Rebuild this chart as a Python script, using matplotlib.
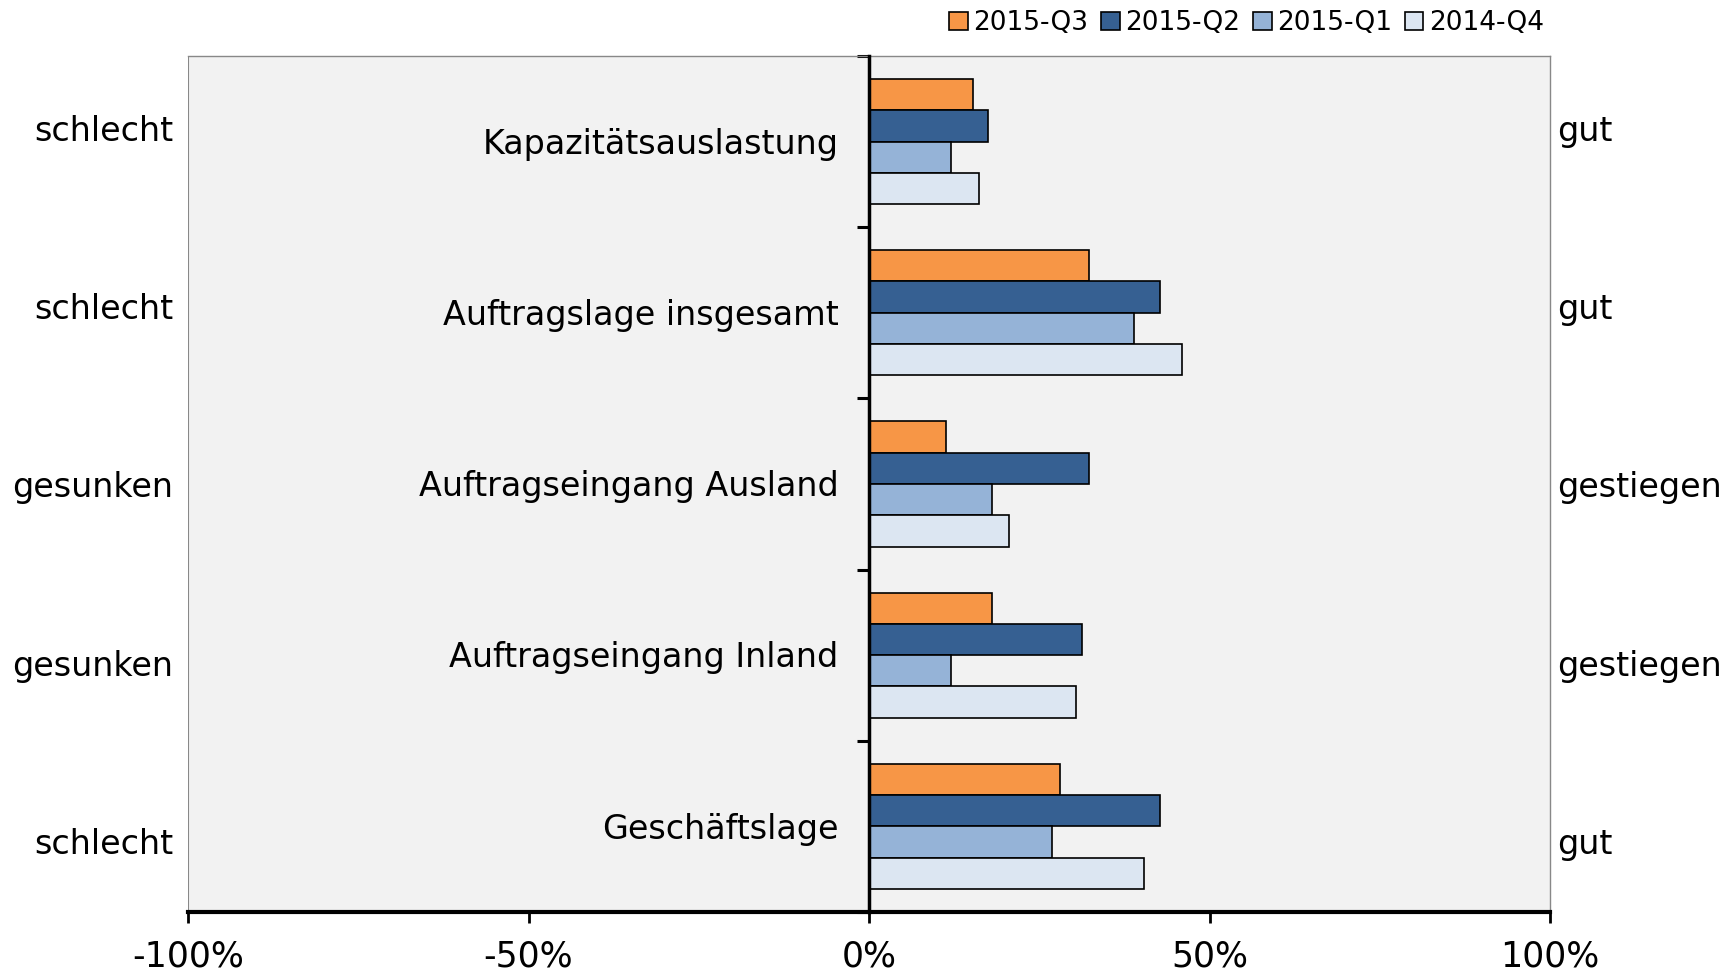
import numpy as np
import matplotlib.pyplot as plt
from matplotlib.ticker import FuncFormatter

# data (values in percent)
categories = ['Kapazitätsauslastung', 'Auftragslage insgesamt', 'Auftragseingang Ausland',
              'Auftragseingang Inland', 'Geschäftslage']
series_names = ['2015-Q3', '2015-Q2', '2015-Q1', '2014-Q4']
q3_2015 = [15.2, 32.3, 11.3, 18.1, 28.1]
q2_2015 = [17.4, 42.8, 32.3, 31.3, 42.8]
q1_2015 = [12.1, 38.9, 18.1, 12.1, 26.8]
q4_2014 = [16.1, 46.0, 20.5, 30.4, 40.4]
left_labels = ['schlecht', 'schlecht', 'gesunken', 'gesunken', 'schlecht']
right_labels = ['gut', 'gut', 'gestiegen', 'gestiegen', 'gut']
xticks = [-100, -50, 0, 50, 100]

colors = ['#F79646', '#366092', '#95B3D7', '#DCE6F2']

plt.rcParams['font.family'] = ['DejaVu Sans']

fig = plt.figure(figsize=(17.27, 9.74), dpi=100)
ax = fig.add_axes([0.1089, 0.0637, 0.7886, 0.8788])
ax.set_facecolor('#F2F2F2')

y = np.arange(len(categories))
h = 0.183
all_series = [q3_2015, q2_2015, q1_2015, q4_2014]
for k, (vals, name, c) in enumerate(zip(all_series, series_names, colors)):
    ax.barh(y + (k - 1.5) * h, vals, height=h, color=c, edgecolor='black',
            linewidth=1.2, label=name, zorder=3)

ax.set_xlim(-100, 100)
ax.set_ylim(4.5, -0.5)

# zero line acts as the category axis
ax.spines['left'].set_position(('data', 0))
ax.spines['left'].set_linewidth(2.5)
ax.spines['left'].set_zorder(4)
ax.set_yticks(np.arange(-0.5, 5, 1))
ax.set_yticklabels([])
ax.tick_params(axis='y', length=9, width=2.2, direction='out')

ax.spines['bottom'].set_linewidth(3)
for s in ['top', 'right']:
    ax.spines[s].set_color('#888888')
    ax.spines[s].set_linewidth(1)
ax.axvline(-100, color='#888888', lw=1.5, zorder=1)

ax.set_xticks(xticks)
ax.xaxis.set_major_formatter(FuncFormatter(lambda v, p: f'{v:.0f}%'))
ax.tick_params(axis='x', length=8, width=2, labelsize=25, pad=12)

for i, cat in enumerate(categories):
    ax.annotate(cat, xy=(0, i), xytext=(-22, -2), textcoords='offset points',
                ha='right', va='center', fontsize=24)

side_y = [0.9115, 0.7043, 0.4958, 0.2873, 0.0788]
for yy, l, r in zip(side_y, left_labels, right_labels):
    ax.text(-0.011, yy, l, transform=ax.transAxes, ha='right', va='center', fontsize=24)
    ax.text(1.005, yy, r, transform=ax.transAxes, ha='left', va='center', fontsize=24)

fig.legend(loc='center right', bbox_to_anchor=(0.9, 0.976), ncol=4, frameon=False,
           fontsize=19, handlelength=0.7, handleheight=0.7, handletextpad=0.2,
           columnspacing=0.5, borderaxespad=0)

fig.savefig('out.png', dpi=100)
